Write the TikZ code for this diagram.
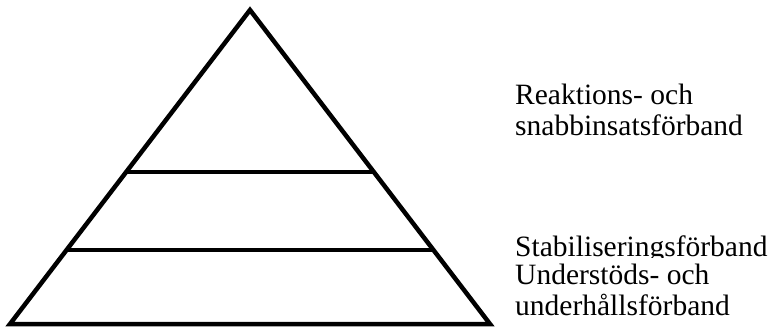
\documentclass[tikz,border=0pt]{standalone}
\usepackage{fontspec}
\setmainfont{Liberation Serif}
\usepackage{tikz}
\usetikzlibrary{positioning, calc}

\begin{document}
\begin{tikzpicture}[
    x=1pt, y=-1pt,
    pyr/.style={line width=4.5pt, line join=miter, black},
    levellabel/.style={anchor=base west, align=left, font=\fontsize{29.5}{30.5}\selectfont, inner sep=0pt},
]
\useasboundingbox (0,0) rectangle (773,330);

% ─── Pyramid ───
\coordinate (apex) at (250,10);
\coordinate (bl) at (10,324);
\coordinate (br) at (490,324);
\draw[pyr] (apex) -- (br) -- (bl) -- cycle;

% ─── Level dividers ───
\draw[pyr] ($(apex)!0.516!(bl)$) -- ($(apex)!0.516!(br)$);
\draw[pyr] ($(apex)!0.764!(bl)$) -- ($(apex)!0.764!(br)$);

% ─── Labels ───
\node[levellabel] (top) at (515,135) {Reaktions- och\\snabbinsatsförband};
\begin{scope}
\clip (505,215) rectangle (773,257);
\node[levellabel] (mid) at (515,256) {Stabiliseringsförband};
\end{scope}
\node[levellabel] (base) at (515,315) {Understöds- och\\underhållsförband};

\end{tikzpicture}
\end{document}
